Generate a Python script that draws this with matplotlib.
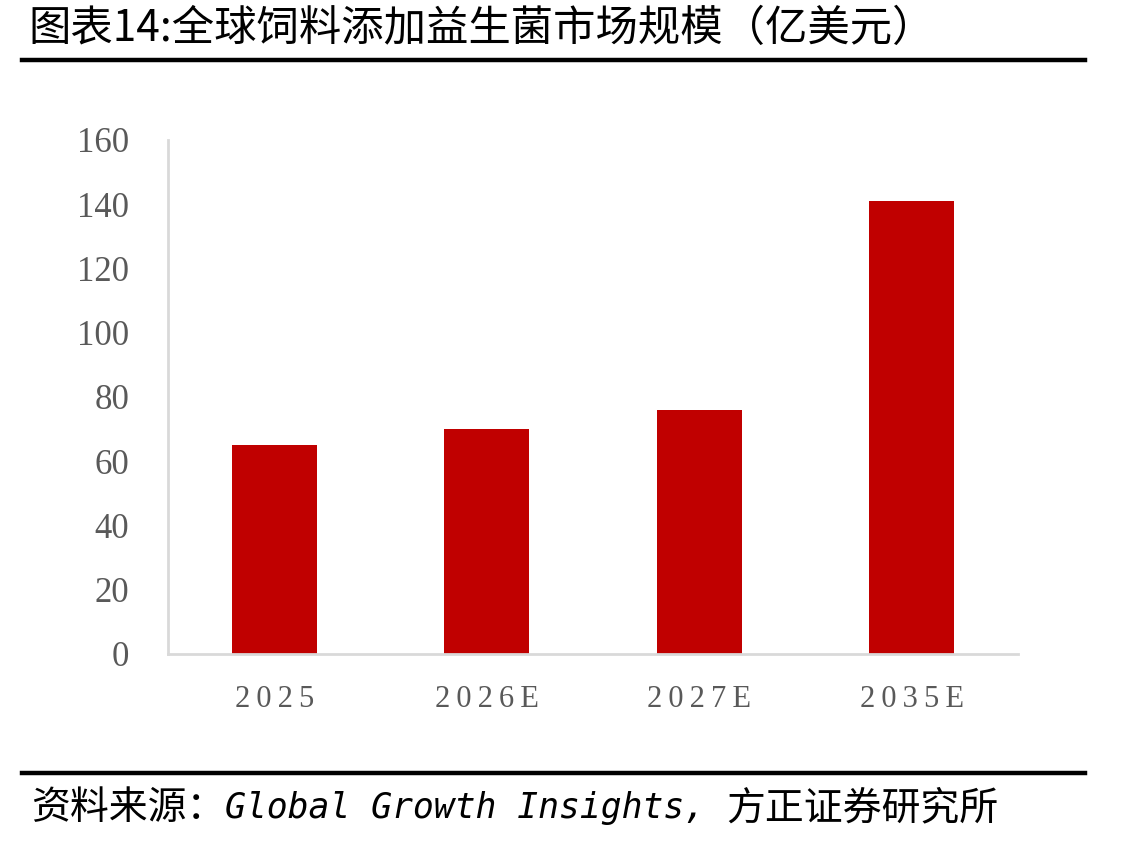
import matplotlib.pyplot as plt
from matplotlib.lines import Line2D

# Data
categories = ['2025', '2026E', '2027E', '2035E']
market_size = [65, 70, 76, 141]
y_ticks = [0, 20, 40, 60, 80, 100, 120, 140, 160]

title = '图表14:全球饲料添加益生菌市场规模（亿美元）'
source_parts = ['资料来源：', 'Global Growth Insights, ', '方正证券研究所']

fig = plt.figure(figsize=(11.35, 8.43), dpi=100)
ax = fig.add_axes([0.148, 0.2242, 0.749, 0.6098])

ax.bar(range(len(categories)), market_size, width=0.4, color='#C00000', zorder=2)

ax.set_xlim(-0.5, len(categories) - 0.5)
ax.set_ylim(0, 160)
ax.set_yticks(y_ticks)
ax.set_xticks(range(len(categories)))
# letter-spaced labels like the original
ax.set_xticklabels(['\u2009'.join(c) for c in categories])

for s in ['top', 'right']:
    ax.spines[s].set_visible(False)
for s in ['left', 'bottom']:
    ax.spines[s].set_color('#d9d9d9')
    ax.spines[s].set_linewidth(2)

ax.tick_params(axis='both', length=0, colors='#595959')
ax.tick_params(axis='y', pad=28)
ax.tick_params(axis='x', pad=22)
for lbl in ax.get_yticklabels():
    lbl.set_family('Liberation Serif')
    lbl.set_fontsize(25)
for lbl in ax.get_xticklabels():
    lbl.set_family('Liberation Serif')
    lbl.set_fontsize(22)

# Title and separators
fig.text(0.025, 0.966, title, fontsize=30.5, va='center', ha='left',
         family=['Noto Sans CJK SC', 'DejaVu Sans'])
fig.add_artist(Line2D([0.019, 0.956], [0.929, 0.929], color='black', lw=3.2,
                      transform=fig.transFigure))
fig.add_artist(Line2D([0.019, 0.956], [0.083, 0.083], color='black', lw=3.2,
                      transform=fig.transFigure))

# source line: CJK parts larger, latin part in an italic mono face
renderer = fig.canvas.get_renderer()
x = 0.027
styles = [dict(fontsize=28, family=['Noto Sans CJK SC', 'DejaVu Sans']),
          dict(fontsize=25, family=['DejaVu Sans Mono'], style='italic'),
          dict(fontsize=28, family=['Noto Sans CJK SC', 'DejaVu Sans'])]
for part, kw in zip(source_parts, styles):
    t = fig.text(x, 0.041, part, va='center', ha='left', **kw)
    x += t.get_window_extent(renderer).width / fig.bbox.width

fig.savefig('out.png', dpi=100)
